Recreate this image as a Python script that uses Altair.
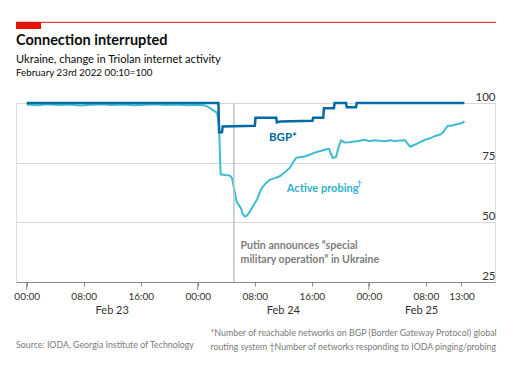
import altair as alt
import pandas as pd

# ---- data (hours since Feb 23 2022 00:00, index Feb 23 00:10 = 100) ----
bgp_hours = [0, 26.9, 27.0, 27.4, 27.5, 32.0, 32.1, 35.0, 35.1, 35.6, 40.1, 40.2,
             41.6, 41.7, 43.1, 43.2, 44.8, 44.9, 46.2, 46.3, 61.4]
bgp_values = [100, 100, 87.7, 87.7, 90.2, 90.5, 93.8, 93.8, 91.9, 92.3, 92.6, 93.8,
              93.8, 97.8, 97.8, 100, 100, 98.2, 98.2, 100, 100]

probe_hours = [0, 1.5, 3, 4.5, 6, 7.5, 9, 10.5, 12, 13.5, 15, 16.5, 18, 19.5, 21, 22.5,
               24, 25.0, 25.7, 26.1, 26.7, 27.0, 27.2, 27.8, 28.5, 28.8, 29.1, 29.45,
               29.8, 30.06, 30.3, 30.6, 30.9, 31.3, 31.7, 32.3, 32.7, 33.0, 33.6, 34.1,
               34.8, 35.5, 36.2, 36.9, 37.35, 37.8, 38.3, 39.0, 39.7, 40.4, 41.1, 41.8,
               42.4, 42.7, 42.95, 43.4, 43.8, 44.1, 44.6, 45.3, 46.0, 46.7, 47.4, 48.1,
               48.8, 49.5, 50.3, 51.0, 51.6, 52.4, 53.1, 53.3, 53.8, 54.5, 55.2, 55.9,
               56.6, 57.3, 58.0, 58.4, 58.8, 59.1, 59.7, 60.2, 60.8, 61.2, 61.4]
probe_values = [99.4, 99.1, 99.5, 99.2, 99.4, 99.0, 99.3, 99.5, 99.2, 99.4, 99.1, 99.3,
                99.5, 99.2, 99.4, 99.1, 99.3, 99.0, 98.0, 97.0, 96.0, 90.0, 70.1, 69.8,
                69.6, 68.5, 64.0, 58.7, 57.0, 55.9, 53.5, 52.4, 52.8, 54.5, 56.5, 59.5,
                62.5, 64.5, 66.5, 67.8, 68.5, 69.3, 71.0, 72.8, 75.0, 77.0, 77.3, 77.6,
                78.3, 79.2, 79.8, 80.4, 80.8, 78.5, 77.0, 77.5, 82.0, 84.3, 83.5, 83.6,
                83.9, 84.2, 84.6, 84.0, 84.4, 84.2, 84.0, 84.4, 84.1, 84.3, 84.4, 83.5,
                81.7, 82.6, 83.6, 84.6, 85.2, 86.2, 86.8, 87.6, 89.5, 90.4, 90.6, 91.0,
                91.4, 91.8, 92.4]

tick_hours = [0, 8, 16, 24, 32, 40, 48, 56, 61]
day_hours = [0, 24, 48]
day_labels = ["Feb 23", "Feb 24", "Feb 25"]
day_label_hours = [12, 36, 55.4]
y_ticks = [25, 50, 75, 100]
putin_hour = [29.07]

bgp = pd.DataFrame({"h": bgp_hours, "v": bgp_values})
probe = pd.DataFrame({"h": probe_hours, "v": probe_values})
days = pd.DataFrame({"h": day_hours})
daylab = pd.DataFrame({"h": day_label_hours, "t": day_labels})
putin = pd.DataFrame({"h": putin_hour})
one = pd.DataFrame({"a": [0]})

W, H = 479, 179
FONT = "Lato"
BLUE = "#006BA2"
LIGHT = "#3EBCD2"

xs = alt.Scale(domain=[-1.5, 65.7], nice=False, zero=False)
ys = alt.Scale(domain=[25, 100], nice=False, zero=False)

x_axis = alt.Axis(values=tick_hours, title=None, grid=False,
                  labelExpr="(datum.value % 24 < 10 ? '0' : '') + (datum.value % 24) + ':00'",
                  domainColor="#8a8a8a", tickColor="#8a8a8a", tickSize=4,
                  labelFontSize=10, labelColor="#333333", labelPadding=5, labelFont=FONT)
y_axis = alt.Axis(values=y_ticks, title=None, orient="right", grid=True,
                  gridColor="#d5d9dc", domain=False, ticks=False, labelAlign="right",
                  labelBaseline="alphabetic", labelPadding=0, labelOffset=-3,
                  labelFontSize=11.5, labelColor="#333333", labelFont=FONT)

base_probe = alt.Chart(probe).mark_line(color=LIGHT, strokeWidth=2).encode(
    x=alt.X("h:Q", scale=xs, axis=x_axis),
    y=alt.Y("v:Q", scale=ys, axis=y_axis),
)
line_bgp = alt.Chart(bgp).mark_line(color=BLUE, strokeWidth=2.5).encode(
    x=alt.X("h:Q", scale=xs), y=alt.Y("v:Q", scale=ys))

putin_rule = alt.Chart(putin).mark_rule(color="#b8c6cf", strokeWidth=1.5).encode(
    x=alt.X("h:Q", scale=xs), y=alt.datum(100), y2=alt.datum(25))

day_ticks = alt.Chart(days).mark_rule(color="#8a8a8a", strokeWidth=1).encode(
    x=alt.X("h:Q", scale=xs), y=alt.value(H), y2=alt.value(H + 8))

day_text = alt.Chart(daylab).mark_text(font=FONT, fontSize=11, color="#333333",
                                       baseline="middle", align="center").encode(
    x=alt.X("h:Q", scale=xs), y=alt.value(H + 29), text="t:N")


def label(text, h, v, color, size=11, weight="normal", dx=0, dy=0):
    return alt.Chart(one).mark_text(text=text, font=FONT, fontSize=size, color=color,
                                    fontWeight=weight, align="left", baseline="middle",
                                    dx=dx, dy=dy).encode(
        x=alt.X("hx:Q", scale=xs),
        y=alt.Y("vy:Q", scale=ys)).transform_calculate(hx=str(h), vy=str(v))


bgp_lab = label("BGP*", 34.0, 85.2, BLUE, 11.5, "bold")
probe_lab = label("Active probing", 36.5, 64.0, "#2fb2cc", 11, "bold")
probe_dag = label("\u2020", 36.5, 64.0, "#2fb2cc", 7.5, "bold", dx=70.5, dy=-5)
putin_l1 = label("Putin announces \u201cspecial", 30.0, 40.1, "#7d7d7d", 10.6, "bold")
putin_l2 = label("military operation\u201d in Ukraine", 30.0, 34.2, "#7d7d7d", 10.6, "bold")


def ptext(text, px, py, size, color="#0c0c0c", weight="normal", align="left"):
    return alt.Chart(one).mark_text(text=text, font=FONT, fontSize=size, color=color,
                                    fontWeight=weight, align=align,
                                    baseline="alphabetic").encode(
        x=alt.value(px), y=alt.value(py))


title = ptext("Connection interrupted", 0, -58, 14.5, weight="bold")
sub1 = ptext("Ukraine, change in Triolan internet activity", 0, -40.5, 11.1)
sub2 = ptext("February 23rd 2022 00:10=100", 0, -27.5, 9.8)
source = ptext("Source: IODA, Georgia Institute of Technology", 0, 244.5, 8.8, color="#7a7a7a")
foot1 = ptext("*Number of reachable networks on BGP (Border Gateway Protocol) global",
              194.5, 233, 8.9, color="#7a7a7a")
foot2 = ptext("routing system \u2020Number of networks responding to IODA pinging/probing",
              194.5, 246.5, 8.75, color="#7a7a7a")

red_line = alt.Chart(one).mark_rule(color="#E3120B", strokeWidth=1).encode(
    x=alt.value(0), x2=alt.value(480), y=alt.value(-80.7))
red_box = alt.Chart(one).mark_rect(color="#E3120B").encode(
    x=alt.value(0), x2=alt.value(25), y=alt.value(-81), y2=alt.value(-74))

chart = alt.layer(
    base_probe, putin_rule, day_ticks, line_bgp, day_text,
    bgp_lab, probe_lab, probe_dag, putin_l1, putin_l2,
    title, sub1, sub2, source, foot1, foot2, red_line, red_box,
).properties(
    width=W, height=H,
    autosize=alt.AutoSizeParams(type="none"),
    padding={"left": 16, "top": 103, "right": 24, "bottom": 93},
).configure_view(stroke=None).configure(background="white")

chart.save("out.html", embed_options={"renderer": "svg", "actions": False})
